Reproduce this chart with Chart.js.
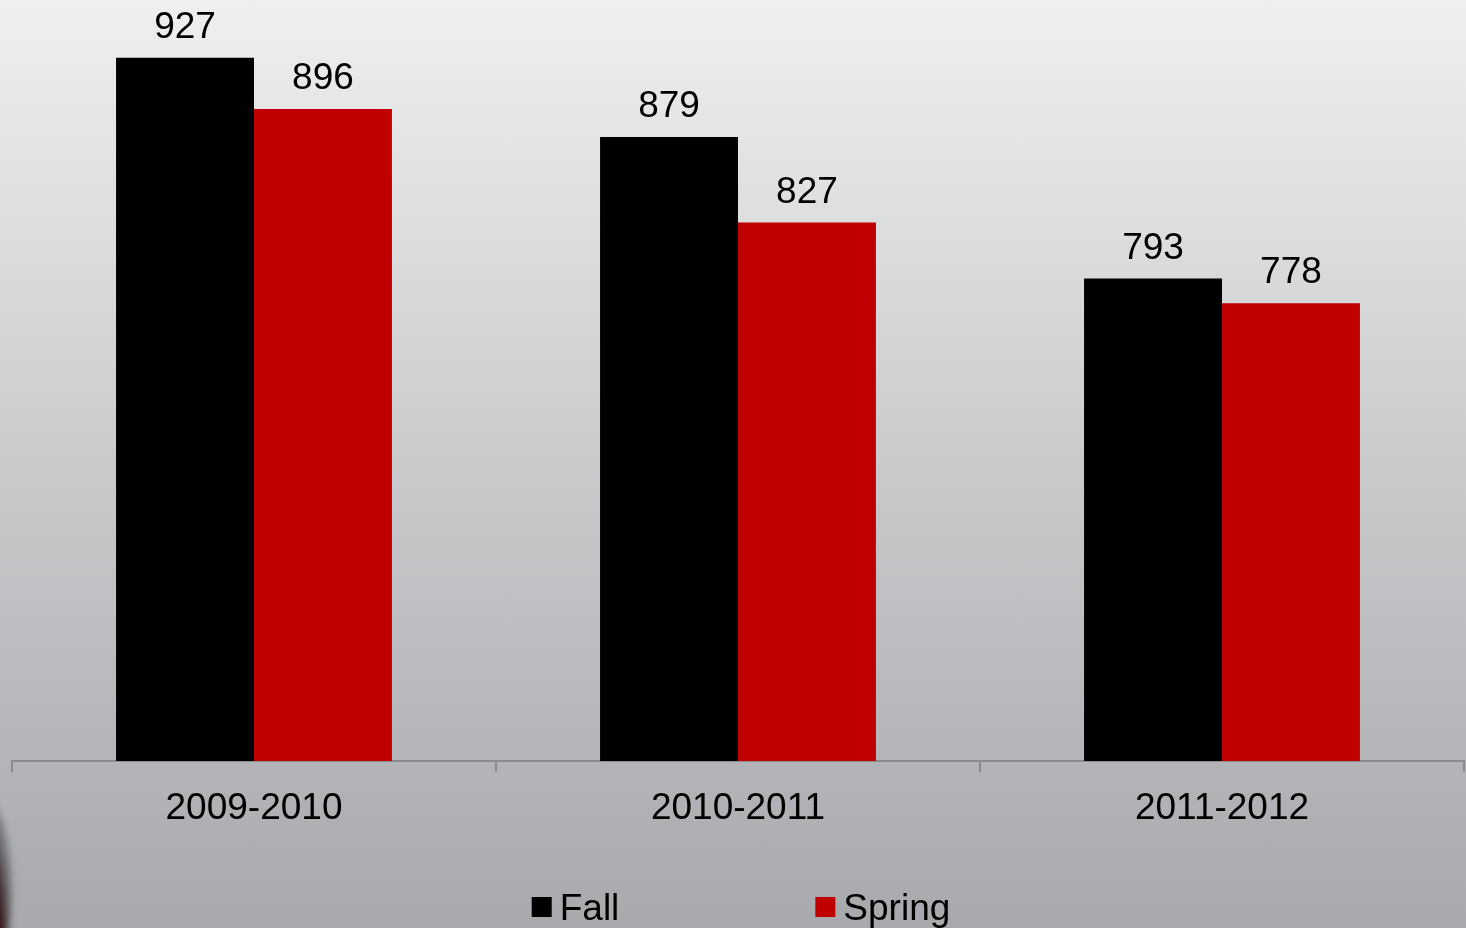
<!DOCTYPE html>
<html>
<head>
<meta charset="utf-8">
<script src="https://cdn.jsdelivr.net/npm/chart.js@4/dist/chart.umd.min.js"></script>
<style>
    html, body { margin: 0; padding: 0; }
    body {
        width: 1466px; height: 928px; overflow: hidden; position: relative;
        background: linear-gradient(to bottom, #eeefee 0%, #dcdddd 25%, #c9cacc 50%, #b8b9bc 75%, #a8a9ad 100%);
    }
    #corner {
        position: absolute; left: -40px; top: 800px; width: 52px; height: 180px;
        border-radius: 50%;
        background: radial-gradient(ellipse at 30% 80%, #3a0508 0%, #2a0a0c 45%, rgba(60,60,64,0.5) 70%, rgba(160,160,165,0) 100%);
        filter: blur(3px);
    }
    #wrap { position: absolute; left: 0; top: 0; width: 1466px; height: 928px; }
    canvas { display: block; }
</style>
</head>
<body>
<div id="corner"></div>
<div id="wrap"><canvas id="enroll" width="1466" height="928"></canvas></div>
<script>
const years = ['2009-2010', '2010-2011', '2011-2012'];
const fall = [927, 879, 793];
const spring = [896, 827, 778];

const fontFamily = '"Liberation Sans", Arial, sans-serif';

// values above each bar
const valueLabels = {
    id: 'valueLabels',
    afterDatasetsDraw(chart) {
        const ctx = chart.ctx;
        ctx.save();
        ctx.font = '37px ' + fontFamily;
        ctx.fillStyle = '#000';
        ctx.textAlign = 'center';
        ctx.textBaseline = 'alphabetic';
        chart.data.datasets.forEach((ds, i) => {
            chart.getDatasetMeta(i).data.forEach((bar, j) => {
                ctx.fillText(ds.data[j], bar.x, bar.y - 20);
            });
        });
        ctx.restore();
    }
};

// legend row under the axis
const bottomLegend = {
    id: 'bottomLegend',
    afterDraw(chart) {
        const ctx = chart.ctx;
        const area = chart.chartArea;
        ctx.save();
        ctx.font = '37px ' + fontFamily;
        ctx.textBaseline = 'alphabetic';
        const box = 20, gap = 8, between = 196;
        const items = chart.data.datasets.map(ds => ({
            text: ds.label, color: ds.backgroundColor,
            w: box + gap + ctx.measureText(ds.label).width
        }));
        const total = items.reduce((s, it) => s + it.w, 0) + between * (items.length - 1);
        let x = (area.left + area.right) / 2 + 3 - total / 2;
        items.forEach(it => {
            ctx.fillStyle = it.color;
            ctx.fillRect(x, 897, box, box);
            ctx.fillStyle = '#000';
            ctx.fillText(it.text, x + box + gap, 920);
            x += it.w + between;
        });
        ctx.restore();
    }
};

new Chart(document.getElementById('enroll'), {
    type: 'bar',
    data: {
        labels: years,
        datasets: [
            { label: 'Fall', data: fall, backgroundColor: '#000000', borderWidth: 0 },
            { label: 'Spring', data: spring, backgroundColor: '#c00000', borderWidth: 0 }
        ]
    },
    options: {
        responsive: false,
        animation: false,
        devicePixelRatio: 1,
        layout: { padding: { left: 12, right: 2, top: 20, bottom: 0 } },
        datasets: { bar: { categoryPercentage: 0.57, barPercentage: 1 } },
        plugins: {
            legend: { display: false },
            tooltip: { enabled: false }
        },
        scales: {
            x: {
                afterFit: s => { s.height = 167; },
                grid: {
                    display: true, drawOnChartArea: false, drawTicks: true,
                    tickLength: 11, color: '#8a8b8c', lineWidth: 2
                },
                border: { display: true, color: '#8a8b8c', width: 2 },
                ticks: { color: '#000', font: { family: fontFamily, size: 37 }, padding: 15 }
            },
            y: { display: false, min: 500, max: 950 }
        }
    },
    plugins: [valueLabels, bottomLegend]
});
</script>
</body>
</html>
